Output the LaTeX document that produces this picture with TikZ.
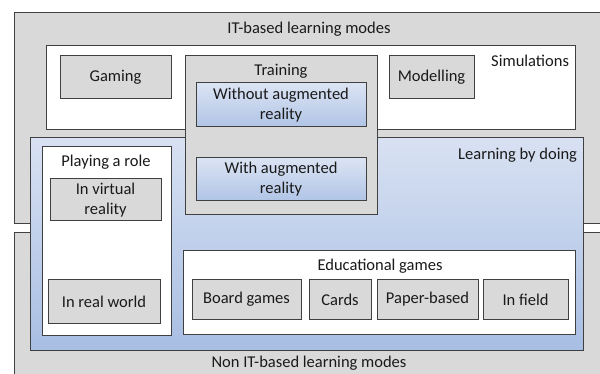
\documentclass[tikz,border=0pt]{standalone}
\usepackage{fontspec}
\setmainfont{Carlito}
\usetikzlibrary{positioning}
\definecolor{gfill}{HTML}{D9D9D9}
\definecolor{edge}{HTML}{404040}
\definecolor{txt}{HTML}{1A1A1A}
\definecolor{blA}{HTML}{F0F3FA}
\definecolor{blB}{HTML}{A8BEE3}
\definecolor{blC}{HTML}{BCCBE8}
\pgfdeclareverticalshading{lbdshade}{100bp}{color(0bp)=(blC); color(25bp)=(blB); color(100bp)=(blA)}
\pgfdeclareverticalshading{arshade}{100bp}{color(0bp)=(blB); color(15bp)=(blB); color(100bp)=(blA)}
\tikzset{
  base/.style={draw=edge, line width=1pt, inner sep=0pt, outer sep=0pt, rectangle, text=txt, align=center,
    font=\fontsize{16.5}{20}\selectfont},
  graybox/.style={base, fill=gfill},
  whitebox/.style={base, fill=white},
  lbdbox/.style={base, shading=lbdshade},
  arbox/.style={base, shading=arshade},
  lbl/.style={inner sep=0pt, outer sep=0pt, text=txt, font=\fontsize{16.5}{20}\selectfont, anchor=base}
}
\newcommand\mybox[7]{\node[#2, minimum width={(#5-#3)*1pt}, minimum height={(#6-#4)*1pt}] (#1) at ({(#3+#5)/2},{(#4+#6)/2}) {#7};}
\begin{document}
\begin{tikzpicture}[x=1pt,y=-1pt]
\useasboundingbox (0,0) rectangle (600,374);
\mybox{it}{graybox}{14}{13}{615}{224}{}
\mybox{nonit}{graybox}{14}{233}{615}{390}{}
\node[lbl] (itl) at (309,34) {IT-based learning modes};
\node[lbl] (nonitl) at (309,367) {Non IT-based learning modes};
\mybox{sim}{whitebox}{46}{46}{575}{130}{}
\node[lbl, anchor=base east] (siml) at (569,67) {Simulations};
\mybox{gaming}{graybox}{60}{56}{171}{99}{Gaming}
\mybox{model}{graybox}{389}{56}{474}{99}{Modelling}
\mybox{lbd}{lbdbox}{30}{138}{583}{350}{}
\node[lbl, anchor=base east] (lbdl) at (577,160) {Learning by doing};
\mybox{role}{whitebox}{42}{147}{171}{335}{}
\node[lbl] (rolel) at (106,167) {Playing a role};
\mybox{vr}{graybox}{50}{179}{161}{221}{In virtual\\reality}
\mybox{rw}{graybox}{48}{280}{160}{323}{In real world}
\mybox{edu}{whitebox}{183}{251}{575}{334}{}
\node[lbl] (edul) at (380,271) {Educational games};
\mybox{board}{graybox}{192}{280}{301}{319}{Board games}
\mybox{cards}{graybox}{309}{280}{371}{319}{Cards}
\mybox{paper}{graybox}{377}{280}{478}{319}{Paper-based}
\mybox{field}{graybox}{483}{280}{568}{319}{In field}
\mybox{train}{graybox}{185}{56}{377}{215}{}
\node[lbl] (trainl) at (281,76) {Training};
\mybox{woar}{arbox}{196}{83}{366}{127}{Without augmented\\reality}
\mybox{war}{arbox}{196}{158}{366}{201}{With augmented\\reality}
\end{tikzpicture}
\end{document}
